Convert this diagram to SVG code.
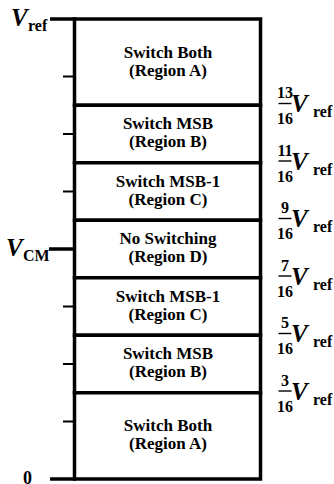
<svg xmlns="http://www.w3.org/2000/svg" width="334" height="484" viewBox="0 0 334 484">
<style>
.box{fill:#fff;stroke:#000;stroke-width:3.5}
.tk{stroke:#000;stroke-width:3.5;fill:none}
.mt{stroke:#000;stroke-width:2;fill:none}
.bar{stroke:#000;stroke-width:1.4}
text{font-family:"Liberation Serif","DejaVu Serif","Noto Serif","Times New Roman",Times,serif;font-weight:bold;fill:#000}
.t{font-size:17px;text-anchor:middle}
.v{font-style:italic;font-size:25px}
.s{font-size:16px}
.n{font-size:16px;text-anchor:middle}
.z{font-size:18px}
</style>
<g id="regionA-top"><rect class="box" x="74.5" y="19" width="186" height="86.25"/><text class="t" x="168" y="58">Switch Both</text><text class="t" x="168" y="76">(Region A)</text></g>
<g id="regionB-top"><rect class="box" x="74.5" y="105.25" width="186" height="57.5"/><text class="t" x="168" y="129">Switch MSB</text><text class="t" x="168" y="147">(Region B)</text></g>
<g id="regionC-top"><rect class="box" x="74.5" y="162.75" width="186" height="57.5"/><text class="t" x="168" y="187">Switch MSB-1</text><text class="t" x="168" y="205">(Region C)</text></g>
<g id="regionD"><rect class="box" x="74.5" y="220.25" width="186" height="57.5"/><text class="t" x="168" y="244">No Switching</text><text class="t" x="168" y="262">(Region D)</text></g>
<g id="regionC-bottom"><rect class="box" x="74.5" y="277.75" width="186" height="57.5"/><text class="t" x="168" y="302">Switch MSB-1</text><text class="t" x="168" y="320">(Region C)</text></g>
<g id="regionB-bottom"><rect class="box" x="74.5" y="335.25" width="186" height="57.5"/><text class="t" x="168" y="359">Switch MSB</text><text class="t" x="168" y="377">(Region B)</text></g>
<g id="regionA-bottom"><rect class="box" x="74.5" y="392.75" width="186" height="86.25"/><text class="t" x="168" y="431">Switch Both</text><text class="t" x="168" y="449">(Region A)</text></g>
<g id="axis">
<line class="tk" x1="50" y1="19" x2="76" y2="19"/>
<line class="tk" x1="49" y1="249" x2="76" y2="249"/>
<line class="tk" x1="50" y1="479" x2="76" y2="479"/>
<line class="mt" x1="63" y1="76.5" x2="75" y2="76.5"/>
<line class="mt" x1="63" y1="134" x2="75" y2="134"/>
<line class="mt" x1="63" y1="191.5" x2="75" y2="191.5"/>
<line class="mt" x1="63" y1="306.5" x2="75" y2="306.5"/>
<line class="mt" x1="63" y1="364" x2="75" y2="364"/>
<line class="mt" x1="63" y1="421.5" x2="75" y2="421.5"/>
</g>
<g id="label-vref"><text class="v" x="11" y="26">V</text><text class="s" x="28" y="31">ref</text></g>
<g id="label-vcm"><text class="v" x="6" y="256">V</text><text class="s" x="23" y="261">CM</text></g>
<g id="label-zero"><text class="z" x="23" y="484">0</text></g>
<g id="frac-13"><text class="n" x="285" y="98">13</text><line class="bar" x1="278.5" y1="103.5" x2="291.5" y2="103.5"/><text class="n" x="285" y="124">16</text><text class="v" x="291" y="112">V</text><text class="s" x="313" y="117">ref</text></g>
<g id="frac-11"><text class="n" x="285" y="155.5">11</text><line class="bar" x1="278.5" y1="161" x2="291.5" y2="161"/><text class="n" x="285" y="181.5">16</text><text class="v" x="291" y="169.5">V</text><text class="s" x="313" y="174.5">ref</text></g>
<g id="frac-9"><text class="n" x="285" y="213">9</text><line class="bar" x1="278.5" y1="218.5" x2="291.5" y2="218.5"/><text class="n" x="285" y="239">16</text><text class="v" x="291" y="227">V</text><text class="s" x="313" y="232">ref</text></g>
<g id="frac-7"><text class="n" x="285" y="270.5">7</text><line class="bar" x1="278.5" y1="276" x2="291.5" y2="276"/><text class="n" x="285" y="296.5">16</text><text class="v" x="291" y="284.5">V</text><text class="s" x="313" y="289.5">ref</text></g>
<g id="frac-5"><text class="n" x="285" y="328">5</text><line class="bar" x1="278.5" y1="333.5" x2="291.5" y2="333.5"/><text class="n" x="285" y="354">16</text><text class="v" x="291" y="342">V</text><text class="s" x="313" y="347">ref</text></g>
<g id="frac-3"><text class="n" x="285" y="385.5">3</text><line class="bar" x1="278.5" y1="391" x2="291.5" y2="391"/><text class="n" x="285" y="411.5">16</text><text class="v" x="291" y="399.5">V</text><text class="s" x="313" y="404.5">ref</text></g>
</svg>
